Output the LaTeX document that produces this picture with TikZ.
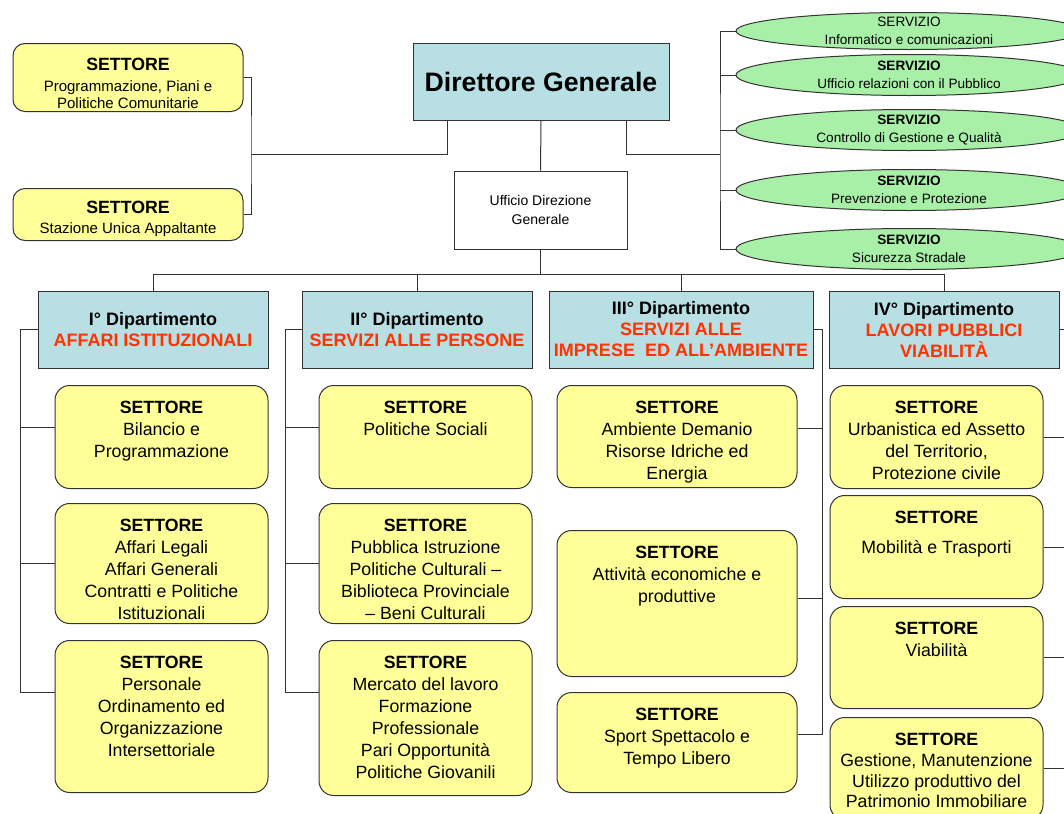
\documentclass[tikz,border=0pt]{standalone}
\usepackage{fontspec}
\setmainfont{Liberation Sans}
\usetikzlibrary{shapes.geometric}
\definecolor{y1}{HTML}{FFFF99}
\definecolor{b1}{HTML}{B8DFE3}
\definecolor{g1}{HTML}{A8F0A8}
\definecolor{r1}{HTML}{FF3300}
\definecolor{ln}{HTML}{333333}
\tikzset{
    conn/.style={draw=ln, line width=0.75pt},
    settore/.style={draw=ln, line width=0.75pt, fill=y1, rounded corners=11pt, inner sep=0pt, anchor=north,
        font=\fontsize{13.3}{16.5}\selectfont},
    topsett/.style={settore, rounded corners=9pt, font=\fontsize{11.25}{12.75}\selectfont},
    dip/.style={draw=ln, line width=0.75pt, fill=b1, inner sep=0pt, minimum height=57.75pt, align=center,
        font=\fontsize{13.5}{15.75}\selectfont\bfseries},
    servizio/.style={ellipse, draw=ln, line width=0.75pt, fill=g1, inner sep=0pt, minimum width=259.5pt, minimum height=30.75pt},
    stext/.style={align=center, inner sep=0pt, font=\fontsize{10.2}{13.5}\selectfont}
}
\newcommand{\sett}[4][0pt]{\parbox[c][#2][t]{#3}{\centering\vspace*{12pt}\textbf{SETTORE}\\[#1]#4}}

\begin{document}
\begin{tikzpicture}[x=0.75pt, y=-0.75pt]
			\useasboundingbox (0,0) rectangle (1064,814);
			\clip (0,0) rectangle (1064,814);
			% vertice
			\node[draw=ln, line width=0.75pt, fill=b1, minimum width=192pt, minimum height=57.75pt, font=\fontsize{20}{24}\selectfont\bfseries] (dg) at (541,81.5) {Direttore Generale};
			\node[draw=ln, line width=0.75pt, fill=white, minimum width=129.75pt, minimum height=58.5pt, align=center, font=\fontsize{10.5}{14.25}\selectfont] (udg) at (540.5,210) {Ufficio Direzione\\Generale};
			\node[topsett] (tl1) at (128,43) {\parbox[c][51pt][t]{172.5pt}{\centering\vspace*{10.6pt}{\fontsize{13.3}{12.75}\selectfont\bfseries SETTORE}\\[3pt]Programmazione, Piani e\\Politiche Comunitarie}};
			\node[topsett] (tl2) at (128,188) {\parbox[c][39pt][t]{172.5pt}{\centering\vspace*{9.8pt}{\fontsize{13.3}{12.75}\selectfont\bfseries SETTORE}\\[2.25pt]Stazione Unica Appaltante}};
			% servizi
			\node[servizio, minimum height=27.75pt, label={[stext]center:SERVIZIO\\Informatico e comunicazioni}] (e1) at (909,31) {};
			\node[servizio, label={[stext]center:\textbf{SERVIZIO}\\Ufficio relazioni con il Pubblico}] (e2) at (909,75) {};
			\node[servizio, label={[stext]center:\textbf{SERVIZIO}\\Controllo di Gestione e Qualità}] (e3) at (909,130) {};
			\node[servizio, label={[stext]center:\textbf{SERVIZIO}\\Prevenzione e Protezione}] (e4) at (909,190) {};
			\node[servizio, label={[stext]center:\textbf{SERVIZIO}\\Sicurezza Stradale}] (e5) at (909,249) {};
			% dipartimenti
			\node[dip, minimum width=172.5pt] (d1) at (153,329.5) {I° Dipartimento\\\textcolor{r1}{AFFARI ISTITUZIONALI}};
			\node[dip, minimum width=172.5pt] (d2) at (417,329.5) {II° Dipartimento\\\textcolor{r1}{SERVIZI ALLE PERSONE}};
			\node[dip, minimum width=198pt] (d3) at (681,329.5) {III° Dipartimento\\\textcolor{r1}{SERVIZI ALLE}\\\textcolor{r1}{IMPRESE\ \ ED ALL’AMBIENTE}};
			\node[dip, minimum width=172.5pt] (d4) at (944,329.5) {IV° Dipartimento\\\textcolor{r1}{LAVORI PUBBLICI}\\\textcolor{r1}{VIABILITÀ}};
			% settori
			\node[settore] (s11) at (161.5,385) {\sett{77.25pt}{159.75pt}{Bilancio e\\Programmazione}};
			\node[settore] (s12) at (161.5,503) {\sett{90pt}{159.75pt}{Affari Legali\\Affari Generali\\Contratti e Politiche\\Istituzionali}};
			\node[settore] (s13) at (161.5,640) {\sett{114pt}{159.75pt}{Personale\\Ordinamento ed\\Organizzazione\\Intersettoriale}};
			\node[settore] (s21) at (425.5,385) {\sett{77.25pt}{159.75pt}{Politiche Sociali}};
			\node[settore] (s22) at (425.5,503) {\sett{90pt}{159.75pt}{Pubblica Istruzione\\Politiche Culturali –\\Biblioteca Provinciale\\– Beni Culturali}};
			\node[settore] (s23) at (425.5,640) {\sett{116.25pt}{159.75pt}{Mercato del lavoro\\Formazione\\Professionale\\Pari Opportunità\\Politiche Giovanili}};
			\node[settore] (s31) at (677,385) {\sett{76.5pt}{180pt}{Ambiente Demanio\\Risorse Idriche ed\\Energia}};
			\node[settore] (s32) at (677,530) {\sett{109.5pt}{180pt}{Attività economiche e\\produttive}};
			\node[settore] (s33) at (677,692) {\sett{75pt}{180pt}{Sport Spettacolo e\\Tempo Libero}};
			\node[settore] (s41) at (936.5,385) {\sett{77.25pt}{159.75pt}{Urbanistica ed Assetto\\del Territorio,\\Protezione civile}};
			\node[settore] (s42) at (936.5,495) {\sett[6pt]{77.25pt}{159.75pt}{Mobilità e Trasporti}};
			\node[settore] (s43) at (936.5,606) {\sett{76.5pt}{159.75pt}{Viabilità}};
			\node[settore] (s44) at (936.5,717) {\sett{76.5pt}{159.75pt}{\fontsize{13.3}{15.5}\selectfont Gestione, Manutenzione\\Utilizzo produttivo del\\Patrimonio Immobiliare}};
			% collegamenti
			\coordinate (lb) at (251,154);
			\coordinate (rb) at (720,154);
			\draw[conn] ([xshift=-70.5pt]dg.south) |- (lb);
			\draw[conn] (tl1.east) -| (lb) |- (tl2.east);
			\draw[conn] ([xshift=63.75pt]dg.south) |- (rb);
			\draw[conn] (e1.west) -| (rb) |- (e5.west);
			\foreach \e in {e2,e3,e4}
				\draw[conn] (\e.west) -- (\e.west -| rb);
			\draw[conn] (dg.south) -- (udg.north);
			\draw[conn] (udg.south) -- ++(0,25) coordinate (bus);
			\draw[conn] (d1.north) |- (bus) -| (d4.north);
			\draw[conn] (d2.north) -- (d2.north |- bus);
			\draw[conn] (d3.north) -- (d3.north |- bus);
			\draw[conn] (d1.west) -- ++(-17,0) coordinate (bar1) |- ([yshift=18pt]s13.west);
			\draw[conn] ([yshift=7pt]s11.west) -- ([yshift=7pt]s11.west -| bar1);
			\draw[conn] (s12.west) -- (s12.west -| bar1);
			\draw[conn] (d2.west) -- ++(-16,0) coordinate (bar2) |- ([yshift=19pt]s23.west);
			\draw[conn] ([yshift=7pt]s21.west) -- ([yshift=7pt]s21.west -| bar2);
			\draw[conn] (s22.west) -- (s22.west -| bar2);
			\draw[conn] (d3.east) -- ++(9,0) coordinate (bar3) |- ([yshift=6pt]s33.east);
			\draw[conn] ([yshift=6pt]s31.east) -- ([yshift=6pt]s31.east -| bar3);
			\draw[conn] ([yshift=3.75pt]s32.east) -- ([yshift=3.75pt]s32.east -| bar3);
			\draw[conn] (d4.east) -- ++(16,0) coordinate (bar4) |- (s44.east);
			\foreach \s in {s41,s42,s43}
				\draw[conn] (\s.east) -- (\s.east -| bar4);
		\end{tikzpicture}
\end{document}
